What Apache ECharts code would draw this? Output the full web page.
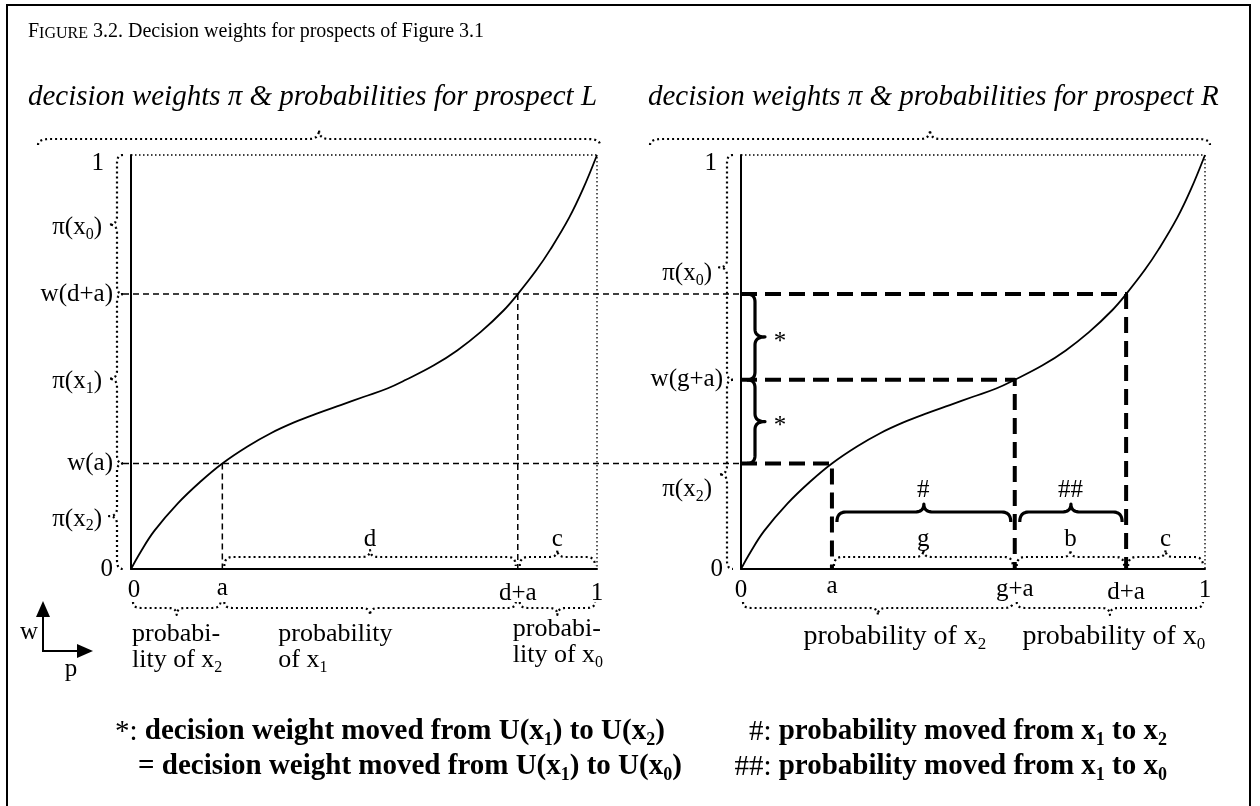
<!DOCTYPE html>
<html>
<head>
<meta charset="utf-8">
<script src="https://cdn.jsdelivr.net/npm/echarts@6/dist/echarts.min.js"></script>
<style>
  html, body { margin: 0; padding: 0; background: #fff; }
  #chart { width: 1260px; height: 806px; }
</style>
</head>
<body>
<div id="chart"></div>
<script>
// ---------- values ----------
// probability weighting curve w(p)
const curveProb   = [0, 0.02, 0.05, 0.10, 0.15, 0.196, 0.25, 0.30, 0.35, 0.40, 0.45, 0.50, 0.55, 0.59, 0.65, 0.70, 0.75, 0.80, 0.83, 0.87, 0.90, 0.94, 0.97, 1];
const curveWeight = [0, 0.04, 0.092, 0.158, 0.212, 0.255, 0.296, 0.328, 0.354, 0.376, 0.396, 0.416, 0.436, 0.457, 0.492, 0.528, 0.572, 0.625, 0.664, 0.722, 0.772, 0.848, 0.918, 1];

// cumulative probabilities a, g+a, d+a and their weights on the curve
const cutProbs   = [0.196, 0.59, 0.83];
const cutWeights = [0.255, 0.457, 0.664];

// prospect L
const leftWeightTicks  = ['0', 'w(a)', 'w(d+a)', '1'];
const leftWeightValues = [0, cutWeights[0], cutWeights[2], 1];
const leftPiLabels     = ['π(x_2)', 'π(x_1)', 'π(x_0)'];
const leftProbTicks    = ['0', 'a', 'd+a', '1'];
const leftProbValues   = [0, cutProbs[0], cutProbs[2], 1];
const leftSpanLetters  = ['', 'd', 'c'];
const leftProbNames    = ['probabi-\nlity of x_2', 'probability\nof x_1', 'probabi-\nlity of x_0'];
const leftGuides       = [0, 2];

// prospect R
const rightWeightTicks  = ['0', 'w(g+a)', '1'];
const rightWeightValues = [0, cutWeights[1], 1];
const rightPiLabels     = ['π(x_2)', 'π(x_0)'];
const rightProbTicks    = ['0', 'a', 'g+a', 'd+a', '1'];
const rightProbValues   = [0, cutProbs[0], cutProbs[1], cutProbs[2], 1];
const rightSpanLetters  = ['', 'g', 'b', 'c'];
const rightProbNames    = ['probability of x_2', 'probability of x_0'];
const rightProbNameSpans = [[0, cutProbs[1]], [cutProbs[1], 1]];
const rightGuides       = [0, 1, 2];
const movedProbMarks    = ['#', '##'];
const movedProbSpans    = [[cutProbs[0], cutProbs[1]], [cutProbs[1], cutProbs[2]]];
const movedWeightMarks  = ['*', '*'];
const movedWeightSpans  = [[cutWeights[1], cutWeights[2]], [cutWeights[0], cutWeights[1]]];

// ---------- layout & styles ----------
const SERIF = '"Liberation Serif", "Times New Roman", "DejaVu Serif", serif';
const INK = '#000';
const GRID_L = { left: 131, top: 155, width: 466, height: 414 };
const GRID_R = { left: 741, top: 155, width: 464, height: 414 };
const PANEL_GAP = GRID_R.left - (GRID_L.left + GRID_L.width);
const FS = 25;
const NOTE_FS = 29;

const DOTTED_THIN  = { lineWidth: 1.3, lineDash: [1.5, 2.5] };
const DOTTED_BRACE = { lineWidth: 2.2, lineDash: [2, 3] };
const DASH_THIN    = { lineWidth: 1.5, lineDash: [6, 4] };
const DASH_THICK   = { lineWidth: 4, lineDash: [16, 8] };
const SOLID_BRACE  = { lineWidth: 3.2, lineDash: null };

function rt(str) { return str.replace(/_(\d)/g, '{s|$1}'); }

function richFor(fs, weight) {
  return {
    s: { fontSize: Math.round(fs * 0.62), fontFamily: SERIF, fontWeight: weight || 'normal', fill: INK,
         padding: [Math.round(fs * 0.58), 0, 0, 0], verticalAlign: 'middle' },
    n: { fontSize: fs, fontFamily: SERIF, fontWeight: 'normal', fill: INK, verticalAlign: 'middle' },
    sc: { fontSize: Math.round(fs * 0.78), fontFamily: SERIF, fill: INK,
          padding: [Math.round(fs * 0.15), 0, 0, 0], verticalAlign: 'middle' }
  };
}

function txt(text, x, y, fs, o) {
  o = o || {};
  return {
    type: 'text', silent: true,
    style: {
      text: rt(text), x: x, y: y,
      fontSize: fs, fontFamily: SERIF,
      fontWeight: o.weight || 'normal', fontStyle: o.italic ? 'italic' : 'normal',
      fill: INK, align: o.align || 'center', verticalAlign: o.va || 'middle',
      lineHeight: o.lh || Math.round(fs * 1.05),
      rich: richFor(fs, o.weight)
    }
  };
}

function poly(points, st) {
  return {
    type: 'polyline', silent: true,
    shape: { points: points },
    style: { stroke: INK, fill: 'none', lineWidth: st.lineWidth, lineDash: st.lineDash || null, lineCap: 'butt', lineJoin: 'round' }
  };
}

// curly brace from pA to pB, bulging along unit normal n: body offset, tip offset
function brace(pA, pB, n, body, tip, rEnd, rTip) {
  const dx = pB[0] - pA[0], dy = pB[1] - pA[1];
  const L = Math.hypot(dx, dy), ux = dx / L, uy = dy / L;
  const P = (u, v) => [pA[0] + ux * u + n[0] * v, pA[1] + uy * u + n[1] * v];
  const pts = [P(0, 0)];
  const quad = (a, c, b) => {
    for (let i = 1; i <= 10; i++) {
      const t = i / 10, s = 1 - t;
      pts.push(P(s * s * a[0] + 2 * s * t * c[0] + t * t * b[0], s * s * a[1] + 2 * s * t * c[1] + t * t * b[1]));
    }
  };
  const m = L / 2;
  quad([0, 0], [0, body], [rEnd, body]);
  pts.push(P(m - rTip, body));
  quad([m - rTip, body], [m, body], [m, tip]);
  quad([m, tip], [m, body], [m + rTip, body]);
  pts.push(P(L - rEnd, body));
  quad([L - rEnd, body], [L, body], [L, 0]);
  return pts;
}

function panelRenderer(spec) {
  return function (params, api) {
    const c = (p, w) => api.coord([p, w]);
    const x0 = c(0, 0)[0], y0 = c(0, 0)[1];
    const x1 = c(1, 1)[0], y1 = c(1, 1)[1];
    const ch = [];

    // heading and the brace spanning the whole panel
    ch.push(txt(spec.heading, x0 + spec.headingDx, y1 - 58, 29, { italic: true, align: 'left' }));
    ch.push(poly(brace([x0 + spec.topBrace[0], y1 - 10], [x1 + spec.topBrace[1], y1 - 10], [0, -1], 6, 15, 12, 10), DOTTED_BRACE));

    // dotted top and right edges of the unit square
    ch.push(poly([[x0, y1], [x1, y1], [x1, y0]], DOTTED_THIN));

    // thin dashed guides (run on into the neighbouring panel)
    spec.thinGuides.forEach(i => {
      const g = c(cutProbs[i], cutWeights[i]);
      ch.push(poly([[x0 - 8, g[1]], [x1 + PANEL_GAP, g[1]]], DASH_THIN));
      ch.push(poly([[g[0], g[1]], [g[0], y0]], DASH_THIN));
    });
    // thick dashed guides
    spec.thickGuides.forEach(i => {
      const g = c(cutProbs[i], cutWeights[i]);
      ch.push(poly([[x0, g[1]], [g[0], g[1]], [g[0], y0]], DASH_THICK));
    });

    // weight-axis ticks
    spec.weightTicks.forEach((t, i) => {
      const y = c(0, spec.weightValues[i])[1];
      const isOne = spec.weightValues[i] === 1;
      ch.push(txt(t, x0 + (isOne ? spec.oneDx : -18), y + (isOne ? 8 : 0), FS, { align: 'right' }));
    });
    // decision-weight braces with π labels
    spec.piLabels.forEach((t, i) => {
      const ya = c(0, spec.weightValues[i + 1])[1], yb = c(0, spec.weightValues[i])[1];
      ch.push(poly(brace([x0 - 8, ya], [x0 - 8, yb], [-1, 0], 6, 14, 8, 8), DOTTED_BRACE));
      ch.push(txt(t, x0 - 29, (ya + yb) / 2 + spec.piDy[i], FS, { align: 'right' }));
    });

    // probability-axis ticks
    spec.probTicks.forEach((t, i) => {
      const x = c(spec.probValues[i], 0)[0];
      ch.push(txt(t, x + spec.probTickDx[i], y0 + 21 + spec.probTickDy[i], FS));
    });
    // segment braces just above the probability axis
    spec.spanLetters.forEach((t, i) => {
      if (!t) return;
      const xa = c(spec.probValues[i], 0)[0], xb = c(spec.probValues[i + 1], 0)[0];
      ch.push(poly(brace([xa + 2, y0 - 3], [xb - 2, y0 - 3], [0, -1], 9, 16, 8, 8), DOTTED_BRACE));
      ch.push(txt(t, (xa + xb) / 2, y0 - 30, FS));
    });
    // probability braces below the axis
    spec.probNames.forEach((t, i) => {
      const xa = c(spec.probNameSpans[i][0], 0)[0], xb = c(spec.probNameSpans[i][1], 0)[0];
      ch.push(poly(brace([xa + 2, y0 + 33], [xb - 2, y0 + 33], [0, 1], 6, 13, 8, 8), DOTTED_BRACE));
      const pos = spec.probNamePos[i];
      ch.push(txt(t, pos.align === 'left' ? xa + pos.dx : (xa + xb) / 2 + pos.dx, y0 + pos.dy, spec.probNameSize,
        { align: pos.align, va: 'top', lh: 26 }));
    });

    // solid braces: probability moved
    (spec.movedProb || []).forEach((t, i) => {
      const xa = c(spec.movedProbSpans[i][0], 0)[0], xb = c(spec.movedProbSpans[i][1], 0)[0];
      ch.push(poly(brace([xa + 5, y0 - 47], [xb - 4, y0 - 47], [0, -1], 10, 18, 9, 9), SOLID_BRACE));
      ch.push(txt(t, (xa + xb) / 2, y0 - 79, FS));
    });
    // solid braces: decision weight moved
    (spec.movedWeight || []).forEach((t, i) => {
      const ya = c(0, spec.movedWeightSpans[i][1])[1], yb = c(0, spec.movedWeightSpans[i][0])[1];
      ch.push(poly(brace([x0 + 6, ya], [x0 + 6, yb], [1, 0], 8, 18, 8, 8), SOLID_BRACE));
      ch.push(txt(t, x0 + 39, (ya + yb) / 2 + 5, FS));
    });

    return { type: 'group', children: ch };
  };
}

const leftSpec = {
  heading: 'decision weights π & probabilities for prospect L', headingDx: -103, topBrace: [-93, 3],
  thinGuides: leftGuides, thickGuides: [],
  weightTicks: leftWeightTicks, weightValues: leftWeightValues, oneDx: -27,
  piLabels: leftPiLabels, piDy: [3, 3, 3],
  probTicks: leftProbTicks, probValues: leftProbValues, probTickDx: [3, 0, 0, 0], probTickDy: [0, -2, 3, 3],
  spanLetters: leftSpanLetters,
  probNames: leftProbNames, probNameSize: 26,
  probNameSpans: [[leftProbValues[0], leftProbValues[1]], [leftProbValues[1], leftProbValues[2]], [leftProbValues[2], leftProbValues[3]]],
  probNamePos: [{ align: 'left', dx: 1, dy: 52 }, { align: 'left', dx: 56, dy: 52 }, { align: 'left', dx: -5, dy: 47 }]
};

const rightSpec = {
  heading: 'decision weights π & probabilities for prospect R', headingDx: -93, topBrace: [-91, 5],
  thinGuides: [], thickGuides: rightGuides,
  weightTicks: rightWeightTicks, weightValues: rightWeightValues, oneDx: -24,
  piLabels: rightPiLabels, piDy: [15, 6],
  probTicks: rightProbTicks, probValues: rightProbValues, probTickDx: [0, 0, 0, 0, 0], probTickDy: [0, -4, -1, 2, 0],
  spanLetters: rightSpanLetters,
  probNames: rightProbNames, probNameSpans: rightProbNameSpans, probNameSize: 28,
  probNamePos: [{ align: 'center', dx: 17, dy: 55 }, { align: 'center', dx: 4, dy: 55 }],
  movedProb: movedProbMarks, movedProbSpans: movedProbSpans,
  movedWeight: movedWeightMarks, movedWeightSpans: movedWeightSpans
};

const curveData = curveProb.map((p, i) => [p, curveWeight[i]]);

function axisFor(idx) {
  return {
    type: 'value', gridIndex: idx, min: 0, max: 1,
    axisLine: { show: true, onZero: false, lineStyle: { color: INK, width: 2 } },
    axisTick: { show: false }, axisLabel: { show: false }, splitLine: { show: false }
  };
}

function noteStyle(text, align) {
  return { text: text, fontSize: NOTE_FS, fontWeight: 'bold', fontFamily: SERIF, fill: INK,
           align: align, verticalAlign: 'middle', lineHeight: 31, rich: richFor(NOTE_FS, 'bold') };
}

const chart = echarts.init(document.getElementById('chart'), null, { renderer: 'canvas' });

const option = {
  animation: false,
  backgroundColor: '#fff',
  grid: [GRID_L, GRID_R],
  xAxis: [axisFor(0), axisFor(1)],
  yAxis: [axisFor(0), axisFor(1)],
  series: [
    { type: 'line', xAxisIndex: 0, yAxisIndex: 0, data: curveData, showSymbol: false, smooth: 0.4,
      lineStyle: { color: INK, width: 1.8 }, silent: true, z: 5 },
    { type: 'line', xAxisIndex: 1, yAxisIndex: 1, data: curveData, showSymbol: false, smooth: 0.4,
      lineStyle: { color: INK, width: 1.8 }, silent: true, z: 5 },
    { type: 'custom', xAxisIndex: 0, yAxisIndex: 0, data: [[0, 0]], clip: false, silent: true, z: 4,
      renderItem: panelRenderer(leftSpec) },
    { type: 'custom', xAxisIndex: 1, yAxisIndex: 1, data: [[0, 0]], clip: false, silent: true, z: 4,
      renderItem: panelRenderer(rightSpec) }
  ],
  graphic: [
    { type: 'rect', silent: true, shape: { x: 7, y: 5, width: 1243, height: 840 },
      style: { fill: 'none', stroke: INK, lineWidth: 2 } },
    { type: 'text', silent: true, x: 28, y: 32,
      style: { text: 'F{sc|IGURE} 3.2. Decision weights for prospects of Figure 3.1', fontSize: 20, fontFamily: SERIF,
               fill: INK, align: 'left', verticalAlign: 'middle', lineHeight: 24, rich: richFor(20) } },
    // w / p orientation arrows
    { type: 'polyline', silent: true, shape: { points: [[43, 614], [43, 651], [80, 651]] },
      style: { stroke: INK, fill: 'none', lineWidth: 2 } },
    { type: 'polygon', silent: true, shape: { points: [[43, 601], [36, 617], [50, 617]] }, style: { fill: INK } },
    { type: 'polygon', silent: true, shape: { points: [[93, 651], [77, 644], [77, 658]] }, style: { fill: INK } },
    { type: 'text', silent: true, x: 29, y: 632,
      style: { text: 'w', fontSize: FS, fontFamily: SERIF, fill: INK, align: 'center', verticalAlign: 'middle' } },
    { type: 'text', silent: true, x: 71, y: 669,
      style: { text: 'p', fontSize: FS, fontFamily: SERIF, fill: INK, align: 'center', verticalAlign: 'middle' } },
    // notes
    { type: 'text', silent: true, x: 115, y: 732,
      style: noteStyle('{n|*:} decision weight moved from U(x{s|1}) to U(x{s|2})', 'left') },
    { type: 'text', silent: true, x: 138, y: 767,
      style: noteStyle('= decision weight moved from U(x{s|1}) to U(x{s|0})', 'left') },
    { type: 'text', silent: true, x: 1167, y: 732,
      style: noteStyle('{n|#:} probability moved from x{s|1} to x{s|2}', 'right') },
    { type: 'text', silent: true, x: 1167, y: 767,
      style: noteStyle('{n|##:} probability moved from x{s|1} to x{s|0}', 'right') }
  ]
};

chart.setOption(option);
</script>
</body>
</html>
